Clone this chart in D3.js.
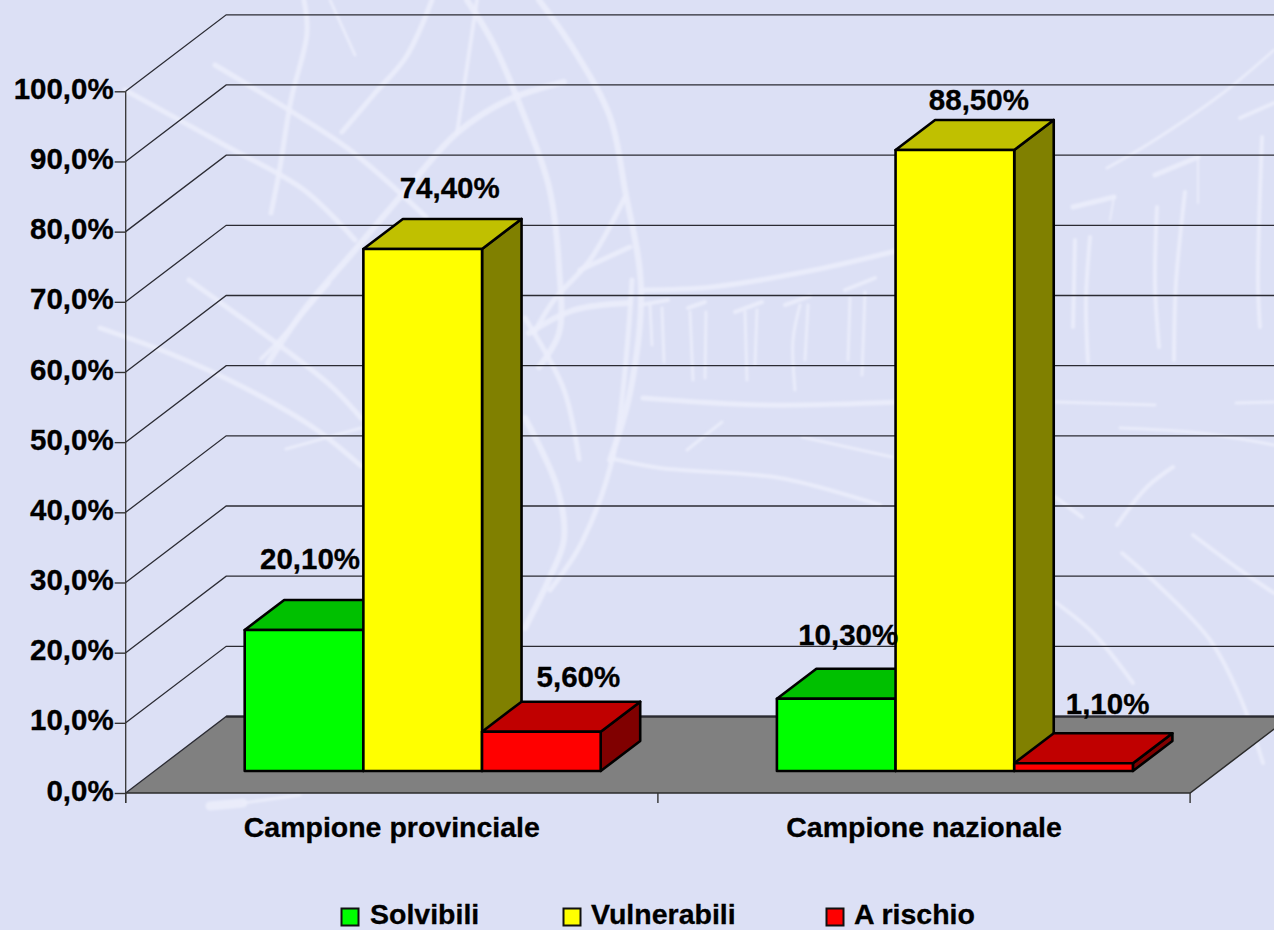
<!DOCTYPE html>
<html>
<head>
<meta charset="utf-8">
<script src="https://cdn.jsdelivr.net/npm/d3@7"></script>
<style>
  html, body { margin: 0; padding: 0; background: #dce0f5; }
  svg { display: block; }
  text { font-family: "Liberation Sans", Arial, sans-serif; font-weight: bold; fill: #000; stroke: #000; stroke-width: 0.3px; }
  .axis path { display: none; }
  .y-axis text { font-size: 29.5px; }
  .axis line { stroke: #333; stroke-width: 1.4; }
  .grid { stroke: #2b2b33; stroke-width: 1.3; fill: none; }
  .streak { fill: none; stroke: #eceffb; stroke-opacity: 0.85; stroke-linecap: round; stroke-linejoin: round; }
</style>
</head>
<body>
<svg id="chart"></svg>
<script>
// data
const categories = ['Campione provinciale', 'Campione nazionale'];
const seriesNames = ['Solvibili', 'Vulnerabili', 'A rischio'];
const solvibili = [20.1, 10.3];
const vulnerabili = [74.4, 88.5];
const aRischio = [5.6, 1.1];
const seriesValues = [solvibili, vulnerabili, aRischio];
const valueLabels = [['20,10%', '10,30%'], ['74,40%', '88,50%'], ['5,60%', '1,10%']];
const yTicks = [0, 10, 20, 30, 40, 50, 60, 70, 80, 90, 100];
const yTickLabels = ['0,0%', '10,0%', '20,0%', '30,0%', '40,0%', '50,0%', '60,0%', '70,0%', '80,0%', '90,0%', '100,0%'];

// face colours per series: front, top, side
const faceColors = [
  ['#00ff00', '#00c000', '#008000'],
  ['#ffff00', '#c0c000', '#808000'],
  ['#ff0000', '#c00000', '#800000']
];

// pale brush strokes of the background picture [width, points]
const streaks = [
  [5, [[125,90],[228,147],[304,190],[355,240]]],
  [5, [[215,65],[289,110],[350,150],[426,217]]],
  [5, [[304,0],[307,33],[291,100],[279,173],[271,213]]],
  [3, [[330,0],[355,55]]],
  [5, [[432,0],[406,57],[375,93],[342,132]]],
  [6, [[564,82],[508,100],[457,133],[406,190],[355,250],[304,310],[268,363]]],
  [6, [[467,0],[493,43],[523,113],[549,187],[559,267],[559,333],[539,367]]],
  [4, [[477,0],[462,100],[457,133]]],
  [6, [[539,0],[574,50],[610,117],[625,190],[641,287],[630,393],[610,460]]],
  [5, [[625,197],[590,260],[554,300],[534,333]]],
  [6, [[529,333],[574,310],[630,303]]],
  [5, [[630,247],[580,270]]],
  [5, [[641,290],[712,287],[814,270],[900,250]]],
  [3, [[650,305],[652,345]]], [3, [[662,308],[664,362]]],
  [3, [[690,312],[693,380]]], [3, [[706,312],[705,378]]],
  [3, [[745,312],[747,380]]], [3, [[757,310],[755,365]]],
  [3, [[800,305],[793,340],[795,390]]], [3, [[808,305],[805,360]]],
  [3, [[850,298],[848,360]]], [3, [[865,292],[862,375]]],
  [4, [[640,305],[668,300]]], [4, [[688,308],[705,302]]], [4, [[735,312],[762,302]]],
  [4, [[785,305],[810,296]]], [4, [[845,290],[875,278]]],
  [5, [[643,398],[763,405],[900,402]]],
  [3, [[1056,402],[1155,405]]],
  [3, [[1236,403],[1274,402]]],
  [3, [[722,422],[687,450]]],
  [3, [[802,437],[892,457]]],
  [3, [[1120,428],[1200,433],[1274,445]]],
  [4, [[1173,467],[1147,487],[1117,525]]],
  [4, [[1055,497],[1082,517]]],
  [4, [[1122,553],[1160,587],[1210,640],[1240,697],[1263,763]]],
  [4, [[1193,535],[1240,570],[1274,593]]],
  [4, [[1055,602],[1093,633],[1133,683]]],
  [3, [[1274,50],[1223,93],[1150,143],[1107,168]]],
  [5, [[1155,175],[1198,157]]],
  [2, [[1198,157],[1198,203]]],
  [5, [[1073,207],[1114,197]]],
  [2, [[1114,197],[1110,220]]],
  [4, [[1240,118],[1274,103]]],
  [4, [[1262,137],[1258,283],[1260,327]]],
  [4, [[1157,207],[1155,283],[1159,347]]],
  [4, [[1185,192],[1176,283],[1174,360]]],
  [4, [[1075,240],[1073,327]]],
  [4, [[1090,237],[1086,300],[1088,362]]],
  [5, [[100,328],[171,354],[243,387],[314,428],[361,466]]],
  [5, [[189,280],[232,311],[279,345],[332,387],[361,418]]],
  [3, [[286,449],[361,428]]],
  [4, [[329,283],[275,345],[261,359]]],
  [5, [[525,318],[564,390],[579,459]]],
  [6, [[525,418],[557,487],[564,539],[550,577],[525,628]]],
  [5, [[632,280],[614,452],[582,542],[550,590]]],
  [4, [[614,459],[660,468],[780,478],[880,505]]],
  [9, [[210,806],[243,803]]],
  [3, [[243,803],[300,795]]]
];

// layout
const width = 1274, height = 930;
const plotLeft = 125.7, plotRight = 1190.1, plotBottom = 793, plotTop = 91.3;
const wallDx = 100.5, wallDy = -76.5;      // depth of the floor and back wall
const barDx = 39.5, barDy = -30;           // depth of one bar
const barBaseLift = 22;                    // bars stand this far behind the floor's front edge
const barsStart = 119, barsEnd = 475;      // bars inside a category band

// hand placed data labels, same shape as valueLabels
const labelNudge = [
  [[6, -61], [12, -54]],
  [[27, -51], [24, -40]],
  [[37, -45], [34, -49]]
];

const legendSwatchX = [341.5, 563.5, 826.5];
const legendTextX = [370, 591, 854];

const svg = d3.select('#chart').attr('width', width).attr('height', height);
svg.append('rect').attr('width', width).attr('height', height).attr('fill', '#dce0f5');

svg.append('defs').append('filter')
    .attr('id', 'soft')
  .append('feGaussianBlur')
    .attr('stdDeviation', 0.8);

// Scales
const xScale = d3.scaleBand().domain(categories).range([plotLeft, plotRight]);
const barScale = d3.scaleBand().domain(seriesNames).range([barsStart, barsEnd]);
const yScale = d3.scaleLinear().domain([0, 100]).range([plotBottom, plotTop]);

// Background brush strokes
const streakLine = d3.line().curve(d3.curveCatmullRom);
svg.append('g')
    .attr('filter', 'url(#soft)')
  .selectAll('path')
    .data(streaks)
  .join('path')
    .attr('class', 'streak')
    .attr('stroke-width', d => d[0])
    .attr('d', d => streakLine(d[1]));

// Floor
const floorCorners = [
  [plotLeft, yScale(0)],
  [plotLeft + wallDx, yScale(0) + wallDy],
  [plotRight + wallDx, yScale(0) + wallDy],
  [plotRight, yScale(0)]
];
svg.append('polygon')
    .attr('points', floorCorners.join(' '))
    .attr('fill', '#808080');
svg.append('path')
    .attr('d', d3.line()(floorCorners.slice(1, 2).concat([floorCorners[2]])))
    .attr('stroke', '#111').attr('stroke-width', 2).attr('fill', 'none');
svg.append('path')
    .attr('d', d3.line()([floorCorners[0], floorCorners[3], floorCorners[2]]))
    .attr('stroke', '#2b2b2b').attr('stroke-width', 1.5).attr('fill', 'none');

// Side wall and back wall gridlines
svg.append('g').selectAll('path')
    .data(yTicks)
  .join('path')
    .attr('class', 'grid')
    .attr('d', d => d3.line()([
      [plotLeft, yScale(d)],
      [plotLeft + wallDx, yScale(d) + wallDy],
      [plotRight + wallDx, yScale(d) + wallDy]
    ]));

// Axes
const yAxis = d3.axisLeft(yScale)
    .tickValues(yTicks)
    .tickFormat((d, i) => yTickLabels[i])
    .tickSize(11)
    .tickPadding(1);
const yAxisG = svg.append('g')
    .attr('class', 'axis y-axis')
    .attr('transform', `translate(${plotLeft},0)`)
    .call(yAxis);
yAxisG.selectAll('text').attr('dy', '0.24em');

svg.append('line')
    .attr('x1', plotLeft).attr('x2', plotLeft)
    .attr('y1', plotTop).attr('y2', plotBottom + 10)
    .attr('stroke', '#333').attr('stroke-width', 1.3);

const xAxisG = svg.append('g')
    .attr('class', 'axis x-axis')
    .attr('transform', `translate(0,${plotBottom})`);
xAxisG.selectAll('line')
    .data([plotLeft, xScale(categories[1]), plotRight])
  .join('line')
    .attr('x1', d => d).attr('x2', d => d)
    .attr('y1', 0).attr('y2', 10);
xAxisG.selectAll('text')
    .data(categories)
  .join('text')
    .attr('x', d => xScale(d) + xScale.bandwidth() / 2)
    .attr('y', 44)
    .attr('text-anchor', 'middle')
    .style('font-size', '28.5px')
    .text(d => d);

// Bars, left to right so that each one overlaps the one before
const bars = [];
seriesNames.forEach((name, s) => {
  categories.forEach((cat, c) => {
    bars.push({s, c, name, cat, value: seriesValues[s][c]});
  });
});
bars.sort((a, b) => a.c - b.c || a.s - b.s);

const barG = svg.append('g').selectAll('g')
    .data(bars)
  .join('g')
    .attr('stroke', '#000')
    .attr('stroke-width', 2.6)
    .attr('stroke-linejoin', 'round');

const barX0 = d => xScale(d.cat) + barScale(d.name);
const barX1 = d => barX0(d) + barScale.bandwidth();
const barTop = d => yScale(d.value) - barBaseLift;
const barBase = yScale(0) - barBaseLift;

barG.append('polygon')
    .attr('fill', d => faceColors[d.s][2])
    .attr('points', d => [
      [barX1(d), barTop(d)],
      [barX1(d) + barDx, barTop(d) + barDy],
      [barX1(d) + barDx, barBase + barDy],
      [barX1(d), barBase]
    ].join(' '));

barG.append('polygon')
    .attr('fill', d => faceColors[d.s][1])
    .attr('points', d => [
      [barX0(d), barTop(d)],
      [barX0(d) + barDx, barTop(d) + barDy],
      [barX1(d) + barDx, barTop(d) + barDy],
      [barX1(d), barTop(d)]
    ].join(' '));

barG.append('rect')
    .attr('fill', d => faceColors[d.s][0])
    .attr('x', barX0)
    .attr('y', barTop)
    .attr('width', barScale.bandwidth())
    .attr('height', d => barBase - barTop(d));

// Data labels
svg.append('g').selectAll('text')
    .data(bars)
  .join('text')
    .attr('x', d => barX0(d) + barScale.bandwidth() / 2 + labelNudge[d.s][d.c][0])
    .attr('y', d => barTop(d) + labelNudge[d.s][d.c][1])
    .attr('text-anchor', 'middle')
    .style('font-size', '29.5px')
    .text(d => valueLabels[d.s][d.c]);

// Legend
const legend = svg.append('g').selectAll('g')
    .data(seriesNames)
  .join('g');
legend.append('rect')
    .attr('x', (d, i) => legendSwatchX[i])
    .attr('y', 908.5)
    .attr('width', 17)
    .attr('height', 17)
    .attr('fill', (d, i) => faceColors[i][0])
    .attr('stroke', '#111')
    .attr('stroke-width', 2);
legend.append('text')
    .attr('x', (d, i) => legendTextX[i])
    .attr('y', 924)
    .style('font-size', '28.5px')
    .text(d => d);
</script>
</body>
</html>
